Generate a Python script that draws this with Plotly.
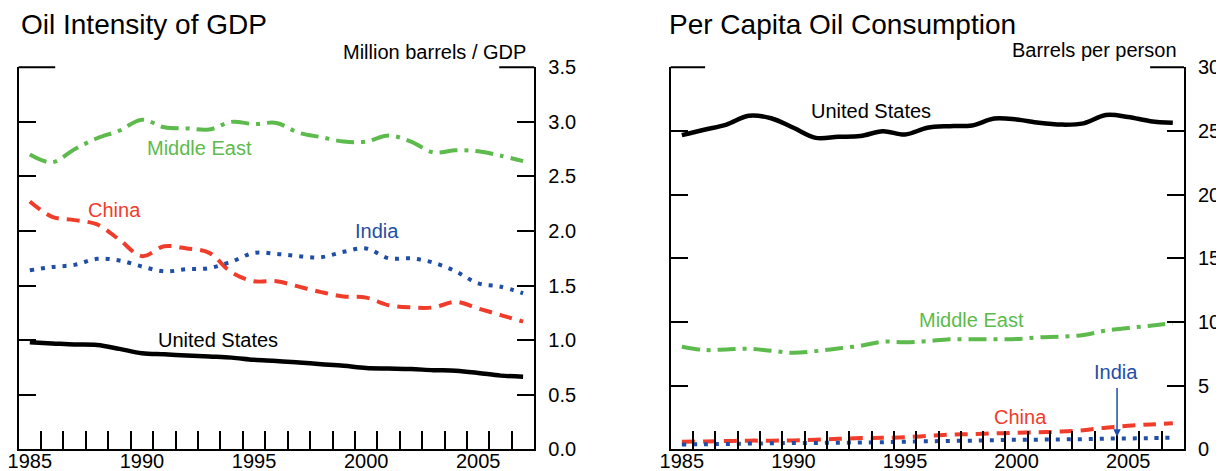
import plotly.graph_objects as go

years = list(range(1985, 2008))

# Oil intensity of GDP (million barrels / GDP)
int_me = [2.70, 2.63, 2.75, 2.85, 2.92, 3.02, 2.95, 2.94, 2.93, 3.00, 2.98, 2.99,
          2.90, 2.86, 2.82, 2.82, 2.875, 2.82, 2.72, 2.74, 2.73, 2.69, 2.64]
int_china = [2.27, 2.13, 2.10, 2.06, 1.92, 1.77, 1.86, 1.84, 1.80, 1.62, 1.54, 1.54,
             1.49, 1.44, 1.40, 1.39, 1.32, 1.30, 1.30, 1.35, 1.29, 1.23, 1.17]
int_india = [1.64, 1.67, 1.69, 1.745, 1.73, 1.675, 1.63, 1.65, 1.66, 1.72, 1.80, 1.79,
             1.77, 1.76, 1.81, 1.84, 1.75, 1.75, 1.71, 1.63, 1.52, 1.49, 1.43]
int_us = [0.98, 0.97, 0.96, 0.955, 0.92, 0.88, 0.87, 0.86, 0.85, 0.84, 0.82, 0.81,
          0.795, 0.78, 0.765, 0.745, 0.74, 0.735, 0.725, 0.72, 0.70, 0.675, 0.665]

# Per capita oil consumption (barrels per person)
pc_us = [24.67, 25.1, 25.5, 26.2, 26.0, 25.25, 24.46, 24.54, 24.6, 24.98, 24.72, 25.25,
         25.38, 25.43, 25.98, 25.9, 25.64, 25.5, 25.6, 26.25, 26.1, 25.77, 25.64]
pc_me = [8.06, 7.8, 7.84, 7.9, 7.74, 7.58, 7.71, 7.92, 8.13, 8.45, 8.4, 8.5,
         8.64, 8.64, 8.64, 8.66, 8.79, 8.85, 8.98, 9.32, 9.53, 9.71, 9.9]
pc_china = [0.6, 0.62, 0.65, 0.68, 0.68, 0.7, 0.75, 0.82, 0.88, 0.9, 0.95, 1.05,
            1.15, 1.2, 1.25, 1.3, 1.33, 1.4, 1.5, 1.7, 1.85, 1.95, 2.05]
pc_india = [0.38, 0.4, 0.42, 0.45, 0.47, 0.5, 0.5, 0.52, 0.53, 0.56, 0.6, 0.63,
            0.66, 0.68, 0.72, 0.75, 0.76, 0.78, 0.8, 0.84, 0.85, 0.88, 0.92]

year_labels = [1985, 1990, 1995, 2000, 2005]
int_ticks = [0, 0.5, 1.0, 1.5, 2.0, 2.5, 3.0, 3.5]
pc_ticks = [0, 5, 10, 15, 20, 25, 30]

GREEN = "#5cbb4c"
RED = "#f03c2a"
BLUE = "#1f4ea6"
BLACK = "#000000"
FONT = "Liberation Sans, Arial, sans-serif"

W, H = 1224, 471
OFF = 8  # page body margin


def px(x):
    return (x - OFF) / W


def py(y):
    return 1 - (y - OFF) / H


styles = {
    "me": dict(color=GREEN, width=4, dash="18px,7px,4px,7px"),
    "china": dict(color=RED, width=4, dash="13px,8px"),
    "india": dict(color=BLUE, width=4, dash="4px,7px"),
    "us": dict(color=BLACK, width=4.5),
}

fig = go.Figure()
for ys, key in [(int_me, "me"), (int_china, "china"), (int_india, "india"), (int_us, "us")]:
    fig.add_trace(go.Scatter(x=years, y=ys, mode="lines", line=styles[key],
                             line_shape="spline", xaxis="x", yaxis="y", showlegend=False))
for ys, key in [(pc_me, "me"), (pc_china, "china"), (pc_india, "india"), (pc_us, "us")]:
    fig.add_trace(go.Scatter(x=years, y=ys, mode="lines", line=styles[key],
                             line_shape="spline", xaxis="x2", yaxis="y2", showlegend=False))

minor_vals = [y + 0.5 for y in years[:-1]]


def xaxis(domain, anchor):
    return dict(domain=domain, anchor=anchor, range=[1984.5, 2007.5],
                tickmode="array", tickvals=year_labels, ticks="", showgrid=False,
                zeroline=False, showline=True, linecolor="black", linewidth=2,
                tickfont=dict(size=20, color="black", family=FONT),
                ticklabelstandoff=-7, ticklabeloverflow="allow",
                minor=dict(tickmode="array", tickvals=minor_vals, ticks="inside",
                           ticklen=18, tickwidth=2, tickcolor="black", showgrid=False),
                automargin=False, fixedrange=True)


def yaxis(domain, anchor, rng, tv, fmt):
    return dict(domain=domain, anchor=anchor, range=rng, side="right",
                tickmode="array", tickvals=tv, tickformat=fmt, ticks="inside",
                ticklen=17, tickwidth=2, tickcolor="black", showgrid=False,
                zeroline=False, showline=True, linecolor="black", linewidth=2,
                mirror="ticks", tickfont=dict(size=20, color="black", family=FONT),
                ticklabelstandoff=8, ticklabeloverflow="allow",
                automargin=False, fixedrange=True)


ydom = [py(449.3), py(67.3)]
fig.update_layout(
    width=W, height=H,
    margin=dict(l=0, r=0, t=0, b=0),
    paper_bgcolor="white", plot_bgcolor="white",
    font=dict(family=FONT, color="black"),
    xaxis=xaxis([px(18.6), px(534.3)], "y"),
    yaxis=yaxis(ydom, "x", [0, 3.5], int_ticks, ".1f"),
    xaxis2=xaxis([px(670.7), px(1184)], "y2"),
    yaxis2=yaxis(ydom, "x2", [0, 30], pc_ticks, "d"),
)

# top frame segments (broken top border)
for xr, yr, a, b in [("x domain", "y domain", 0.071, 0.932), ("x2 domain", "y2 domain", 0.067, 0.934)]:
    fig.add_shape(type="line", xref=xr, yref=yr, x0=0, x1=a, y0=1, y1=1,
                  line=dict(color="black", width=2))
    fig.add_shape(type="line", xref=xr, yref=yr, x0=b, x1=1, y0=1, y1=1,
                  line=dict(color="black", width=2))


def ann(text, x, y, xref, yref, color="black", size=20, xanchor="center", yanchor="middle"):
    fig.add_annotation(text=text, x=x, y=y, xref=xref, yref=yref, showarrow=False,
                       font=dict(size=size, color=color, family=FONT),
                       xanchor=xanchor, yanchor=yanchor)


# titles and units
ann("Oil Intensity of GDP", px(19), py(25), "paper", "paper", size=28, xanchor="left")
ann("Per Capita Oil Consumption", px(667), py(25), "paper", "paper", size=28, xanchor="left")
ann("Million barrels / GDP", px(528), py(51.7), "paper", "paper", xanchor="right")
ann("Barrels per person", px(1179), py(50), "paper", "paper", xanchor="right")

# series labels, left panel
ann("Middle East", 1992.55, 2.76, "x", "y", GREEN)
ann("China", 1988.76, 2.19, "x", "y", RED)
ann("India", 2000.49, 2.0, "x", "y", BLUE)
ann("United States", 1993.4, 1.0, "x", "y", BLACK)

# series labels, right panel
ann("United States", 1993.49, 26.56, "x2", "y2", BLACK)
ann("Middle East", 1997.98, 10.13, "x2", "y2", GREEN)
ann("India", 2004.44, 6.11, "x2", "y2", BLUE)
ann("China", 2000.19, 2.57, "x2", "y2", RED)

fig.add_annotation(x=2004.5, y=0.99, ax=2004.5, ay=4.93, xref="x2", yref="y2",
                   axref="x2", ayref="y2", showarrow=True, arrowhead=2, arrowsize=1,
                   arrowwidth=1.5, arrowcolor=BLUE, text="")

fig.write_html("out.html")
